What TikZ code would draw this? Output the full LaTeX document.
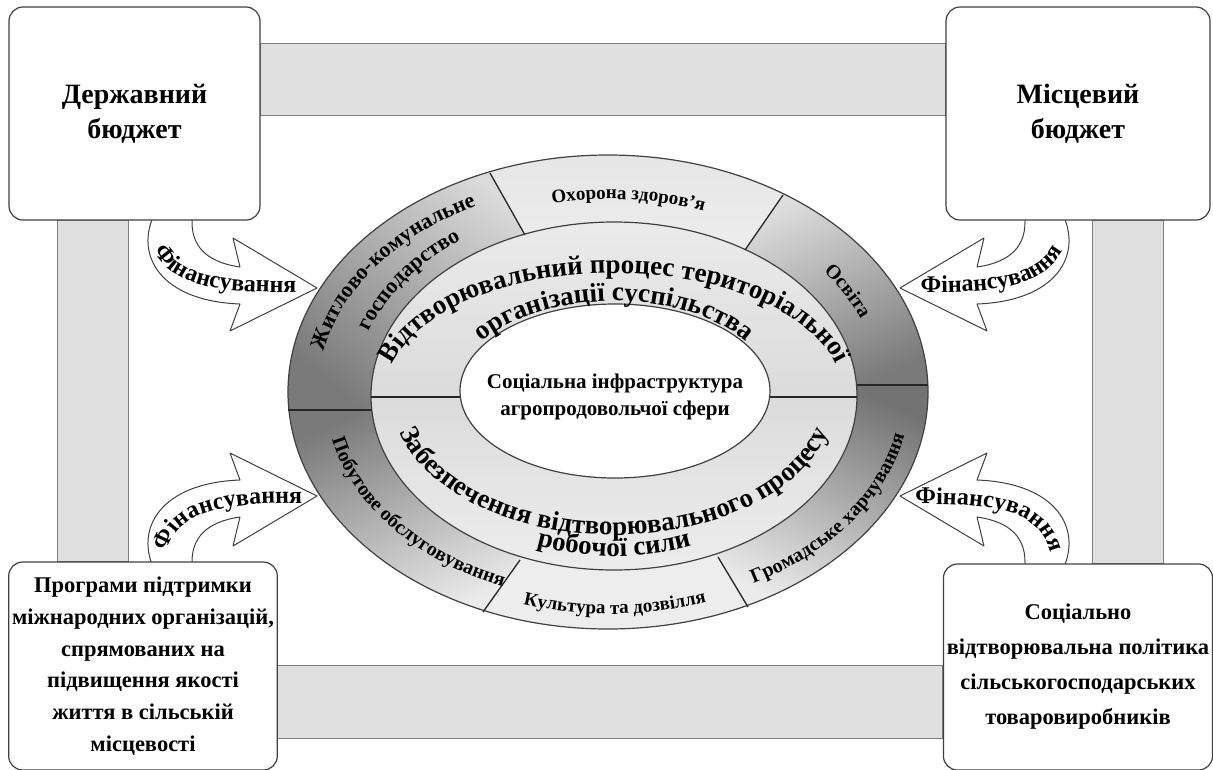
\documentclass[tikz,border=0pt]{standalone}
\usepackage{fontspec}
\setmainfont{Liberation Serif}
\usetikzlibrary{decorations.text,backgrounds}

\newcommand\bigring{\fontsize{27}{27}\selectfont\bfseries}
\newcommand\midring{\fontsize{22}{22}\selectfont\bfseries}
\newcommand\smallring{\fontsize{20}{20}\selectfont\bfseries}
\newcommand\tinyring{\fontsize{19}{19}\selectfont\bfseries}
\newcommand\finfont{\fontsize{24}{24}\selectfont\bfseries}

% curved block arrow, drawn once for the upper left corner
\newcommand\finarrow{%
  \draw[fin] (154,200) -- (154,215) .. controls (135,255) and (160,301) .. (240,304)
    -- (230,331) -- (317,288) -- (233,238) -- (240,267)
    .. controls (205,262) and (192,245) .. (192,222) -- (192,200) -- cycle;}

\begin{document}
\begin{tikzpicture}[x=1pt, y=-1pt,
    box/.style={draw=black!75, line width=1.2pt, rounded corners=14pt, fill=white, align=center},
    bar/.style={draw=black!50, line width=1pt, fill=black!12},
    fin/.style={draw=black!75, line width=1pt, fill=white, line join=round},
    rim/.style={draw=black!75, line width=1.2pt},
    sep/.style={draw=black!85, line width=1.3pt},
    curved/.style={decorate, decoration={text along path, text align=center, text={#1}}}]
\useasboundingbox (0,0) rectangle (1213,769);

% corner boxes
\node[box, minimum width=251pt, minimum height=213pt, font=\fontsize{28}{35}\selectfont\bfseries]
  (derzh) at (134.5,113.5) {Державний\\бюджет};
\node[box, minimum width=264pt, minimum height=213pt, font=\fontsize{28}{35}\selectfont\bfseries]
  (mists) at (1078,113.5) {Місцевий\\бюджет};
\node[box, minimum width=268pt, minimum height=208pt, font=\fontsize{22.5}{31.7}\selectfont\bfseries]
  (prog) at (143,666) {Програми підтримки\\міжнародних організацій,\\спрямованих на\\підвищення якості\\життя в сільській\\місцевості};
\node[box, minimum width=264pt, minimum height=206pt, font=\fontsize{22.5}{35}\selectfont\bfseries]
  (polit) at (1078,667) {Соціально\\відтворювальна політика\\сільськогосподарських\\товаровиробників};

\begin{pgfonlayer}{background}
  % grey bands between the boxes
  \draw[bar] (derzh.east |- 0,43) rectangle (mists.west |- 0,115);
  \draw[bar] (prog.east |- 0,665) rectangle (polit.west |- 0,738);
  \draw[bar] (57,0 |- derzh.south) rectangle (128,0 |- prog.north);
  \draw[bar] (1092,0 |- mists.south) rectangle (1163,0 |- polit.north);
  % financing arrows
  \finarrow
  \begin{scope}[shift={(1217,0)}, xscale=-1] \finarrow \end{scope}
  \begin{scope}[shift={(0,784)}, yscale=-1] \finarrow \end{scope}
  \begin{scope}[shift={(1217,784)}, xscale=-1, yscale=-1] \finarrow \end{scope}
\end{pgfonlayer}

\path[curved={|\finfont|Фінансування}] (151,244) .. controls (168,286) and (215,294) .. (304,292);
\path[curved={|\finfont|Фінансування}] (913,292) .. controls (1002,294) and (1049,286) .. (1066,244);
\path[curved={|\finfont|Фінансування}] (166,554) .. controls (178,512) and (215,503) .. (304,503);
\path[curved={|\finfont|Фінансування}] (912,504) .. controls (1000,503) and (1043,512) .. (1051,556);

% outer ring, six parts
\begin{scope}
  \clip (608,392) ellipse[x radius=320pt, y radius=237pt];
  \begin{scope}
    \clip (612,400) -- (372,410) -- (200,410) -- (200,100) -- (472,142) -- (525,235) -- cycle;
    \shade[top color=black!14, bottom color=black!52, shading angle=-40] (286,152) rectangle (530,412);
  \end{scope}
  \begin{scope}
    \clip (612,400) -- (525,235) -- (472,142) -- (480,100) -- (820,100) -- (802,167) -- (745,250) -- cycle;
    \shade[top color=black!10, bottom color=black!7] (485,150) rectangle (790,255);
  \end{scope}
  \begin{scope}
    \clip (612,400) -- (745,250) -- (802,167) -- (1010,100) -- (1010,385) -- (857,385) -- cycle;
    \shade[top color=black!13, bottom color=black!52, shading angle=25] (740,190) rectangle (930,388);
  \end{scope}
  \begin{scope}
    \clip (612,400) -- (857,385) -- (1010,385) -- (1010,700) -- (766,637) -- (718,557) -- cycle;
    \shade[top color=black!55, bottom color=black!8, shading angle=-25] (715,382) rectangle (930,610);
  \end{scope}
  \begin{scope}
    \clip (612,400) -- (718,557) -- (766,637) -- (780,700) -- (450,700) -- (464,638) -- (520,560) -- cycle;
    \fill[black!7] (480,555) rectangle (752,632);
  \end{scope}
  \begin{scope}
    \clip (612,400) -- (520,560) -- (464,638) -- (200,700) -- (200,410) -- (372,410) -- cycle;
    \shade[top color=black!52, bottom color=black!8, shading angle=25] (286,408) rectangle (524,615);
  \end{scope}
\end{scope}

% middle ring
\begin{scope}
  \clip (614,396) ellipse[x radius=243pt, y radius=174pt];
  \shade[top color=black!8, bottom color=black!14] (371,222) rectangle (857,397);
  \shade[top color=black!14, bottom color=black!7] (371,397) rectangle (857,570);
\end{scope}
\draw[rim, fill=white] (615,391) ellipse[x radius=155pt, y radius=87pt];
\draw[rim] (608,392) ellipse[x radius=320pt, y radius=237pt];
\draw[rim] (614,396) ellipse[x radius=243pt, y radius=174pt];

% dividing lines
\draw[sep] (288,410) -- (372,410);
\draw[sep] (857,385) -- (928,385);
\draw[sep] (490,173) -- (525,235);
\draw[sep] (783,195) -- (745,250);
\draw[sep] (748,607) -- (718,557);
\draw[sep] (483,612) -- (520,560);
\draw[sep] (371,397) -- (460,397);
\draw[sep] (770,397) -- (857,397);

% texts of the outer ring
\path[curved={|\midring|Житлово-комунальне}] (610,394) ++(170:292pt and 212pt)
  arc[start angle=170, end angle=116, x radius=292pt, y radius=212pt];
\path[curved={|\midring|господарство}] (610,394) ++(163:255pt and 190pt)
  arc[start angle=163, end angle=124, x radius=255pt, y radius=190pt];
\path[curved={|\tinyring|Охорона здоров’я}] (610,394) ++(104:270pt and 195pt)
  arc[start angle=104, end angle=68, x radius=270pt, y radius=195pt];
\path[curved={|\smallring|Освіта}] (610,394) ++(40:271pt and 198pt)
  arc[start angle=40, end angle=20, x radius=271pt, y radius=198pt];
\path[curved={|\smallring|Громадське харчування}] (610,394) ++(297:300pt and 216pt)
  arc[start angle=297, end angle=351, x radius=300pt, y radius=216pt];
\path[curved={|\tinyring|Культура та дозвілля}] (610,394) ++(251:296pt and 220pt)
  arc[start angle=251, end angle=291, x radius=296pt, y radius=220pt];
\path[curved={|\smallring|Побутове обслуговування}] (610,394) ++(190:285pt and 208pt)
  arc[start angle=190, end angle=250, x radius=285pt, y radius=208pt];

% texts of the middle ring
\path[curved={|\bigring|Відтворювальний процес територіальної}] (614,394) ++(180:229pt and 121pt)
  arc[start angle=180, end angle=0, x radius=229pt, y radius=121pt];
\path[curved={|\bigring|організації суспільства}] (614,394) ++(180:160pt and 93pt)
  arc[start angle=180, end angle=0, x radius=160pt, y radius=93pt];
\path[curved={|\bigring|Забезпечення відтворювального процесу}] (614,396) ++(180:222pt and 139pt)
  arc[start angle=180, end angle=360, x radius=222pt, y radius=139pt];
\path[curved={|\bigring|робочої сили}] (614,396) ++(210:220pt and 160pt)
  arc[start angle=210, end angle=330, x radius=220pt, y radius=160pt];

\node[font=\fontsize{21}{27}\selectfont\bfseries, align=center] (infra) at (615,397)
  {Соціальна інфраструктура\\агропродовольчої сфери};
\end{tikzpicture}
\end{document}
